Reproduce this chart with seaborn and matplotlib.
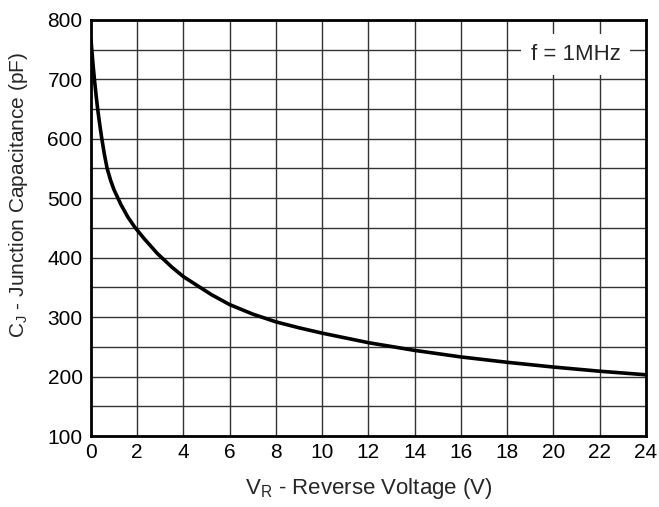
import matplotlib
matplotlib.use("Agg")
import matplotlib.pyplot as plt
import seaborn as sns
import pandas as pd

# valores
tensao_v = [0, 0.04, 0.09, 0.15, 0.22, 0.29, 0.38, 0.47, 0.58, 0.70, 0.85, 1.0, 1.3, 1.6, 1.9,
            2.3, 2.87, 3.5, 4.0, 4.6, 5.2, 6.0, 7.0, 8.0, 9.0, 10.0, 12.0, 14.0, 16.0, 18.0,
            20.0, 22.0, 24.0]
capacitancia_pf = [767, 748, 725, 700, 674, 650, 624, 600, 574, 550, 530, 514, 489, 468, 451,
                   432, 407, 384, 368, 353, 338, 321, 305, 292, 282, 273, 257, 244, 233, 224,
                   216, 209, 203]

dados = pd.DataFrame({"V": tensao_v, "C": capacitancia_pf})

sns.set_style("white")
plt.rcParams["font.family"] = ["Liberation Sans", "DejaVu Sans"]
plt.rcParams["mathtext.default"] = "regular"

fig = plt.figure(figsize=(6.59, 5.07), dpi=100)
ax = fig.add_axes([0.138, 0.140, 0.842, 0.821])

sns.lineplot(data=dados, x="V", y="C", color="black", linewidth=2.6, ax=ax)

ax.set_xlim(0, 24)
ax.set_ylim(100, 800)
ax.set_xticks(range(0, 25, 2))
ax.set_yticks(range(100, 801, 100))
ax.set_yticks(range(150, 800, 100), minor=True)
ax.grid(True, which="both", color="#333333", linewidth=1.0)
ax.set_axisbelow(True)
ax.tick_params(axis="both", which="both", length=0, labelsize=15, colors="black")
ax.tick_params(axis="x", pad=5)
ax.tick_params(axis="y", pad=6)

for s in ax.spines.values():
    s.set_color("black")
    s.set_linewidth(2)

ax.set_xlabel(r"V$_\mathregular{R}$ - Reverse Voltage (V)", fontsize=16, labelpad=10)
ax.set_ylabel(r"C$_\mathregular{J}$ - Junction Capacitance (pF)", fontsize=15)
ax.yaxis.set_label_coords(-0.11, 0.58)

ax.text(20.97, 742, "f = 1MHz", fontsize=16, ha="center", va="center", zorder=5,
        bbox=dict(facecolor="white", edgecolor="none", pad=7))

fig.savefig("out.png", dpi=100)
